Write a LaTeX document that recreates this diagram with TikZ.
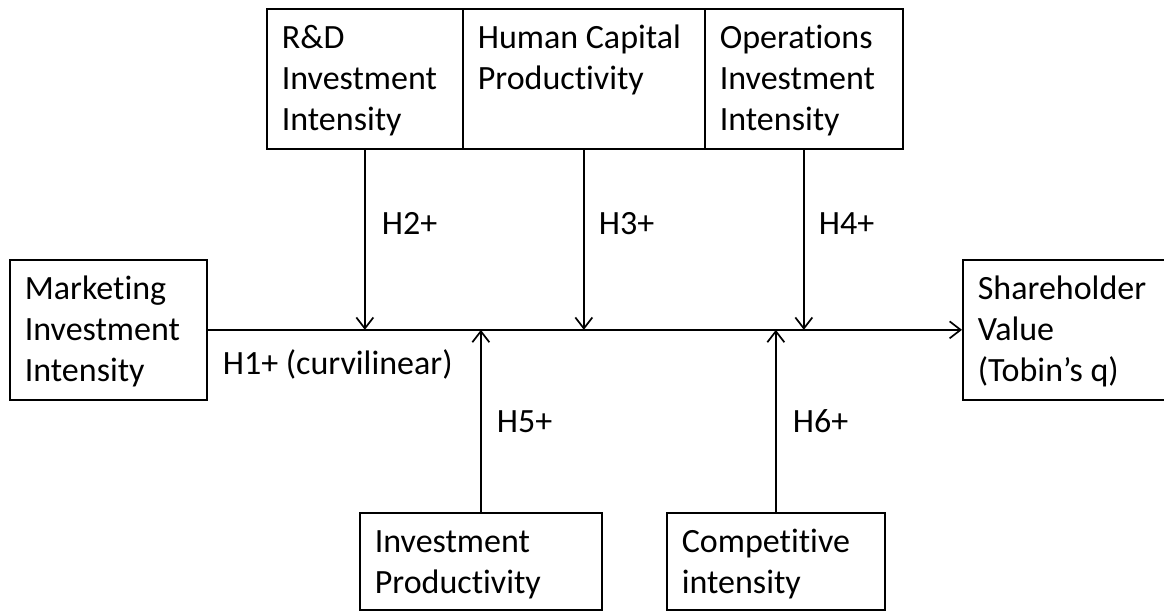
\documentclass[tikz,border=0pt]{standalone}
\usepackage{fontspec}
\setmainfont[Ligatures=NoCommon]{Carlito}
\usetikzlibrary{arrows.meta}

\begin{document}
\begin{tikzpicture}[
  x=1pt, y=-1pt,
  line width=1.7pt,
  every node/.style={font=\fontsize{34}{41}\selectfont, inner sep=0pt},
  box/.style={draw, anchor=north west, align=flush left, inner xsep=15pt, inner ysep=14pt, text height=26pt},
  tallbox/.style={box, text depth=86pt},
  lowbox/.style={box, text depth=43pt},
  hyp/.style={anchor=base west},
  link/.style={-{Straight Barb[length=11pt,width=17pt]}}
  ]
  \useasboundingbox (0,0) rectangle (1164,612);

  % Define nodes
  \node[tallbox, text width=166pt] (rd) at (266,8) {R\&D\\Investment\\Intensity};
  \node[tallbox, text width=212pt] (hc) at (462,8) {Human Capital\\Productivity};
  \node[tallbox, text width=168pt] (ops) at (704,8) {Operations\\Investment\\Intensity};
  \node[tallbox, text width=167pt] (mkt) at (9,259) {Marketing\\Investment\\Intensity};
  \node[tallbox, text width=178pt] (sh) at (962,259) {Shareholder\\Value\\(Tobin’s q)};
  \node[lowbox, text width=212pt] (ip) at (359,512) {Investment\\Productivity};
  \node[lowbox, text width=188pt] (ci) at (666,512) {Competitive\\intensity};

  % Hypothesis labels
  \node[hyp] (h1) at (222,374) {H1+ (curvilinear)};
  \node[hyp] (h2) at (381,235) {H2+};
  \node[hyp] (h3) at (598,235) {H3+};
  \node[hyp] (h4) at (818,235) {H4+};
  \node[hyp] (h5) at (496,432) {H5+};
  \node[hyp] (h6) at (792,432) {H6+};

  % Draw arrows
  \draw[link] (mkt.east) -- (sh.west);
  \draw[link] (rd) -- (rd.south |- mkt.east);
  \draw[link] (hc) -- (hc.south |- mkt.east);
  \draw[link] (ops) -- (ops.south |- mkt.east);
  \draw[link] (ip) -- (ip.north |- mkt.east);
  \draw[link] (ci) -- (ci.north |- mkt.east);
\end{tikzpicture}
\end{document}
